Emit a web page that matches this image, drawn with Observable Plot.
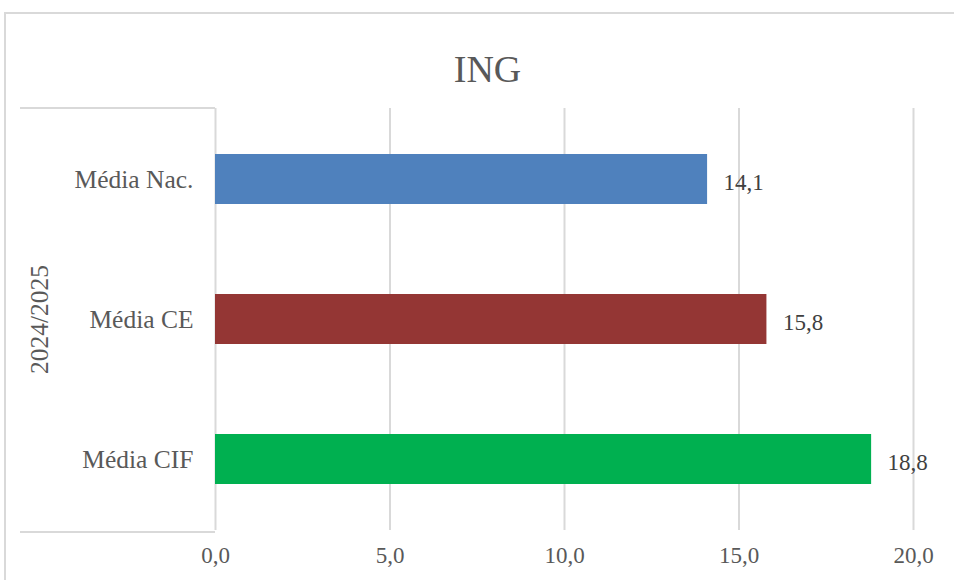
<!DOCTYPE html>
<html>
<head>
<meta charset="utf-8">
<script src="https://cdn.jsdelivr.net/npm/d3@7"></script>
<script src="https://cdn.jsdelivr.net/npm/@observablehq/plot@0.6"></script>
<style>
  html, body { margin: 0; padding: 0; background: #fff; }
  #wrap { position: relative; width: 954px; height: 580px; overflow: hidden; }
  #outer { position: absolute; left: 4px; top: 12px; width: 1000px; height: 700px;
           border-left: 2px solid #d9d9d9; border-top: 2px solid #d9d9d9; pointer-events: none; }
  #catbox { position: absolute; left: 20px; top: 107px; width: 195px; height: 422px;
            border-top: 2px solid #d9d9d9; border-bottom: 2px solid #d9d9d9; pointer-events: none; }
</style>
</head>
<body>
<div id="wrap"><div id="outer"></div><div id="catbox"></div></div>
<script>
const title = "ING";
const group = "2024/2025";
const categories = ["Média Nac.", "Média CE", "Média CIF"];
const values = [14.1, 15.8, 18.8];
const colors = ["#4f81bd", "#943634", "#00b050"];
const xTicks = [0, 5, 10, 15, 20];

const data = categories.map((c, i) => ({cat: c, value: values[i], color: colors[i]}));
const fmt = d => d.toFixed(1).replace(".", ",");
const font = "'Liberation Serif', 'DejaVu Serif', serif";

const chart = Plot.plot({
  width: 954,
  height: 580,
  marginLeft: 215,
  marginRight: 41,
  marginTop: 108,
  marginBottom: 50,
  style: {fontFamily: font, fontSize: "23px", color: "#595959", background: "transparent", overflow: "visible"},
  x: {domain: [0, 20], ticks: xTicks, tickFormat: fmt, label: null},
  y: {domain: categories, paddingInner: 0.645, paddingOuter: 0.3225, label: null},
  marks: [
    Plot.ruleX(xTicks, {stroke: "#d9d9d9", strokeWidth: 2}),
    Plot.barX(data, {y: "cat", x: "value", fill: "color"}),
    Plot.text(data, {y: "cat", x: "value", text: d => fmt(d.value), textAnchor: "start", dx: 16, dy: 3, fill: "#404040", fontSize: 23}),
    Plot.axisX({ticks: xTicks, tickFormat: fmt, tickSize: 0, tickPadding: 16, fontSize: 23, fill: "#595959", label: null}),
    Plot.axisY({tickSize: 0, tickPadding: 22, fontSize: 25.5, fill: "#595959", label: null}),
    Plot.text([group], {frameAnchor: "left", textAnchor: "middle", dx: -176, rotate: -90, fontSize: 25.5, fill: "#595959"}),
    Plot.text([title], {frameAnchor: "top", dx: -77, dy: -53, fontSize: 38, fill: "#595959"})
  ]
});
chart.style.position = "absolute";
chart.style.left = "0px";
chart.style.top = "0px";
document.getElementById("wrap").appendChild(chart);
</script>
</body>
</html>
